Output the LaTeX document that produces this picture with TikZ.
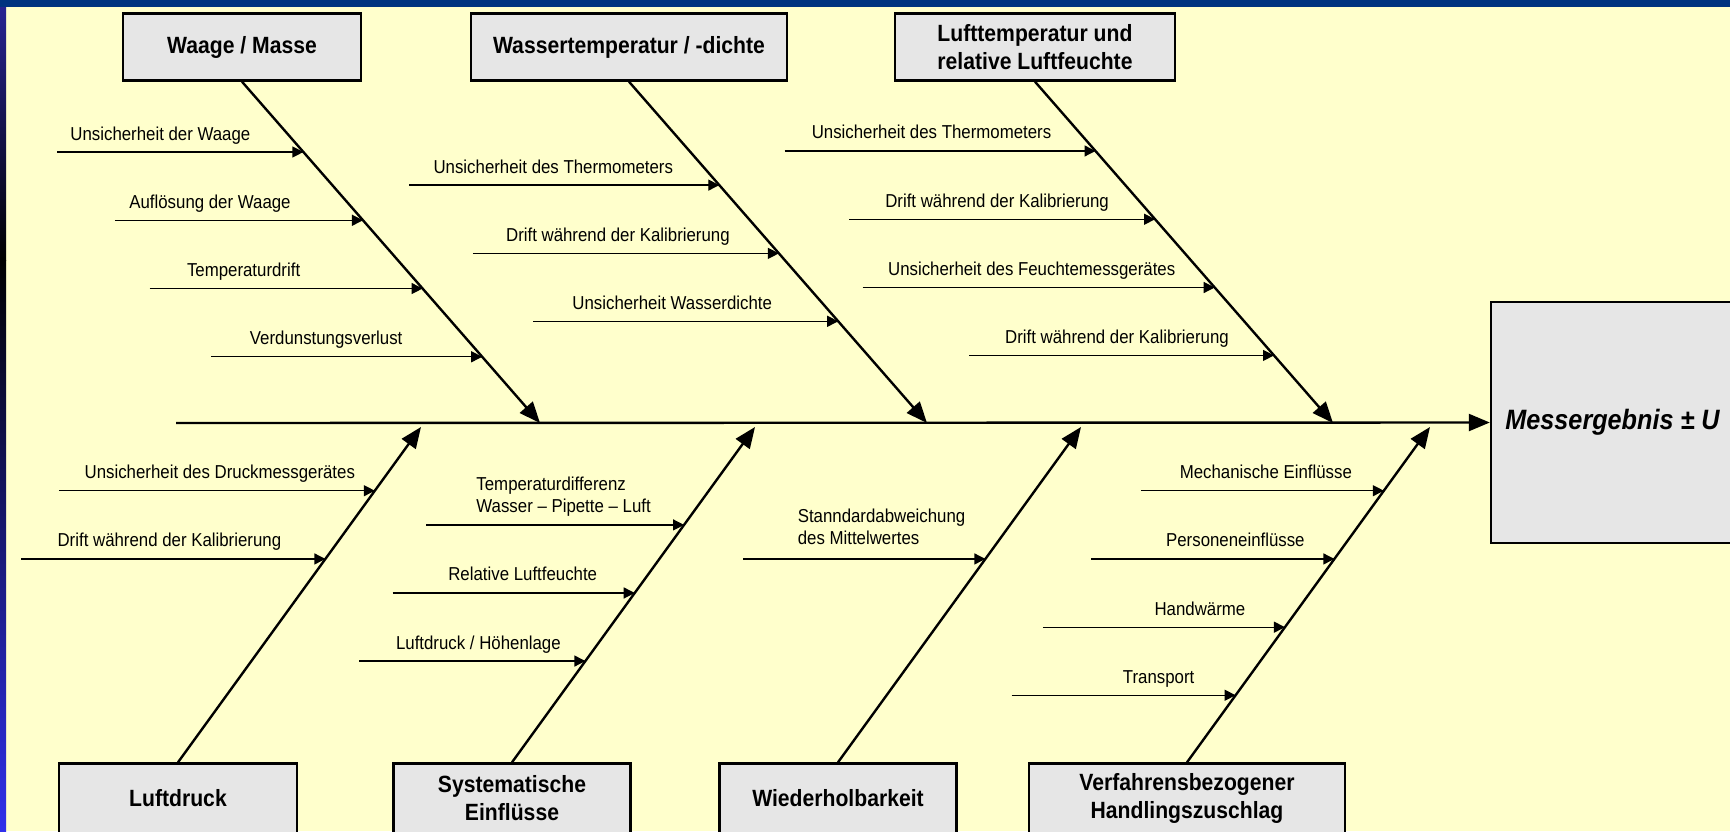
\documentclass[tikz,border=0pt]{standalone}
\usepackage{fontspec}
\setmainfont{Liberation Sans}[FakeStretch=0.9]
\usetikzlibrary{arrows.meta,calc}

\definecolor{slide}{RGB}{255,255,204}
\definecolor{boxgray}{RGB}{230,230,230}
\definecolor{barblue}{RGB}{0,51,128}
\definecolor{stripblue}{RGB}{40,36,150}
\definecolor{stripbright}{RGB}{48,48,235}

\tikzset{
    cause/.style={draw, line width=1.2pt, fill=boxgray, align=center, inner sep=0pt,
        font=\fontsize{11.75}{14}\selectfont\bfseries, minimum height=33.5pt},
    result/.style={cause, font=\fontsize{14}{16}\selectfont\bfseries\itshape,
        minimum width=121.5pt, minimum height=120.5pt},
    lbl/.style={inner sep=0pt, font=\fontsize{9.35}{11.25}\selectfont, anchor=base},
    lbltwo/.style={lbl, align=left, anchor=base west},
    spine/.style={line width=1.2pt, -{Triangle[length=10.5pt, width=8.5pt]}},
    bone/.style={spine},
    sub/.style={line width=0.65pt, -{Triangle[length=5.5pt, width=5.5pt]}}
}

\begin{document}
\begin{tikzpicture}[x=0.5pt, y=-0.5pt]
    \useasboundingbox (0,0) rectangle (1730,831);
    % slide background
    \fill[slide] (0,0) rectangle (1730,831);
    \shade[top color=stripblue, bottom color=black] (0,0) rectangle (6,260);
    \shade[top color=black, bottom color=stripbright] (0,260) rectangle (6,831);
    \fill[barblue] (0,0) rectangle (1730,7);

    % main categories
    \node[cause, minimum width=119pt] (wm) at (242,47) {Waage / Masse};
    \node[cause, minimum width=158pt] (wt) at (629,47) {Wassertemperatur / -dichte};
    \node[cause, minimum width=140pt] (lt) at (1035,47) {Lufttemperatur und\\relative Luftfeuchte};
    \node[cause, minimum width=119pt, minimum height=35pt] (ld) at (178,798.5) {Luftdruck};
    \node[cause, minimum width=118.5pt, minimum height=35pt] (se) at (512,798.5) {Systematische\\Einfl\"usse};
    \node[cause, minimum width=118.5pt, minimum height=35pt] (wh) at (838,798.5) {Wiederholbarkeit};
    \node[cause, minimum width=158pt, minimum height=35pt] (vh) at (1187,798.5) {Verfahrensbezogener\\Handlingszuschlag};
    \node[result] (res) at (1612.5,422.5) {Messergebnis ± U};

    % spine and bones
    \coordinate (tail) at (176,423);
    \coordinate (t1) at (540,423);
    \coordinate (t2) at (927,423);
    \coordinate (t3) at (1333,423);
    \coordinate (b1) at (421,427);
    \coordinate (b2) at (755,427);
    \coordinate (b3) at (1081,427);
    \coordinate (b4) at (1430,427);
    \draw[spine] (tail) -- (res.west);
    \draw[bone] (wm.south) -- (t1);
    \draw[bone] (wt.south) -- (t2);
    \draw[bone] (lt.south) -- (t3);
    \draw[bone] (ld.north) -- (b1);
    \draw[bone] (se.north) -- (b2);
    \draw[bone] (wh.north) -- (b3);
    \draw[bone] (vh.north) -- (b4);

    % Waage / Masse
    \coordinate (w1) at ($(wm.south)!.206!(t1)$);
    \draw[sub] ($(w1)+(-246,0)$) coordinate (w1s) -- (w1);
    \node[lbl] (lw1) at ($(w1)+(-143,-12)$) {Unsicherheit der Waage};
    \coordinate (w2) at ($(wm.south)!.406!(t1)$);
    \draw[sub] ($(w2)+(-248,0)$) coordinate (w2s) -- (w2);
    \node[lbl] (lw2) at ($(w2)+(-153,-12)$) {Aufl\"osung der Waage};
    \coordinate (w3) at ($(wm.south)!.606!(t1)$);
    \draw[sub] ($(w3)+(-273,0)$) coordinate (w3s) -- (w3);
    \node[lbl] (lw3) at ($(w3)+(-179,-12)$) {Temperaturdrift};
    \coordinate (w4) at ($(wm.south)!.806!(t1)$);
    \draw[sub] ($(w4)+(-271,0)$) coordinate (w4s) -- (w4);
    \node[lbl] (lw4) at ($(w4)+(-156,-12)$) {Verdunstungsverlust};

    % Wassertemperatur / -dichte
    \coordinate (a1) at ($(wt.south)!.303!(t2)$);
    \draw[sub] ($(a1)+(-310,0)$) coordinate (a1s) -- (a1);
    \node[lbl] (la1) at ($(a1)+(-166,-12)$) {Unsicherheit des Thermometers};
    \coordinate (a2) at ($(wt.south)!.503!(t2)$);
    \draw[sub] ($(a2)+(-306,0)$) coordinate (a2s) -- (a2);
    \node[lbl] (la2) at ($(a2)+(-161,-12)$) {Drift w\"ahrend der Kalibrierung};
    \coordinate (a3) at ($(wt.south)!.702!(t2)$);
    \draw[sub] ($(a3)+(-305,0)$) coordinate (a3s) -- (a3);
    \node[lbl] (la3) at ($(a3)+(-166,-12)$) {Unsicherheit Wasserdichte};

    % Lufttemperatur und relative Luftfeuchte
    \coordinate (c1) at ($(lt.south)!.203!(t3)$);
    \draw[sub] ($(c1)+(-311,0)$) coordinate (c1s) -- (c1);
    \node[lbl] (lc1) at ($(c1)+(-164,-12)$) {Unsicherheit des Thermometers};
    \coordinate (c2) at ($(lt.south)!.403!(t3)$);
    \draw[sub] ($(c2)+(-306,0)$) coordinate (c2s) -- (c2);
    \node[lbl] (lc2) at ($(c2)+(-158,-12)$) {Drift w\"ahrend der Kalibrierung};
    \coordinate (c3) at ($(lt.south)!.603!(t3)$);
    \draw[sub] ($(c3)+(-352,0)$) coordinate (c3s) -- (c3);
    \node[lbl] (lc3) at ($(c3)+(-183,-12)$) {Unsicherheit des Feuchtemessger\"ates};
    \coordinate (c4) at ($(lt.south)!.802!(t3)$);
    \draw[sub] ($(c4)+(-305,0)$) coordinate (c4s) -- (c4);
    \node[lbl] (lc4) at ($(c4)+(-157,-12)$) {Drift w\"ahrend der Kalibrierung};

    % Luftdruck
    \coordinate (d1) at ($(ld.north)!.810!(b1)$);
    \draw[sub] ($(d1)+(-316,0)$) coordinate (d1s) -- (d1);
    \node[lbl] (ld1) at ($(d1)+(-155,-12)$) {Unsicherheit des Druckmessger\"ates};
    \coordinate (d2) at ($(ld.north)!.6065!(b1)$);
    \draw[sub] ($(d2)+(-304,0)$) coordinate (d2s) -- (d2);
    \node[lbl] (ld2) at ($(d2)+(-156,-12)$) {Drift w\"ahrend der Kalibrierung};

    % Systematische Einfluesse
    \coordinate (s1) at ($(se.north)!.708!(b2)$);
    \draw[sub] ($(s1)+(-258,0)$) coordinate (s1s) -- (s1);
    \node[lbltwo] (ls1) at ($(s1)+(-208,-12)$) {Temperaturdifferenz\\Wasser – Pipette – Luft};
    \coordinate (s2) at ($(se.north)!.505!(b2)$);
    \draw[sub] ($(s2)+(-242,0)$) coordinate (s2s) -- (s2);
    \node[lbl] (ls2) at ($(s2)+(-112,-12)$) {Relative Luftfeuchte};
    \coordinate (s3) at ($(se.north)!.302!(b2)$);
    \draw[sub] ($(s3)+(-226,0)$) coordinate (s3s) -- (s3);
    \node[lbl] (ls3) at ($(s3)+(-107,-12)$) {Luftdruck / H\"ohenlage};

    % Wiederholbarkeit
    \coordinate (h1) at ($(wh.north)!.6065!(b3)$);
    \draw[sub] ($(h1)+(-242,0)$) coordinate (h1s) -- (h1);
    \node[lbltwo] (lh1) at ($(h1)+(-188,-14)$) {Stanndardabweichung\\des Mittelwertes};

    % Verfahrensbezogener Handlingszuschlag
    \coordinate (v1) at ($(vh.north)!.810!(b4)$);
    \draw[sub] ($(v1)+(-243,0)$) coordinate (v1s) -- (v1);
    \node[lbl] (lv1) at ($(v1)+(-118,-12)$) {Mechanische Einfl\"usse};
    \coordinate (v2) at ($(vh.north)!.6065!(b4)$);
    \draw[sub] ($(v2)+(-243,0)$) coordinate (v2s) -- (v2);
    \node[lbl] (lv2) at ($(v2)+(-99,-12)$) {Personeneinfl\"usse};
    \coordinate (v3) at ($(vh.north)!.403!(b4)$);
    \draw[sub] ($(v3)+(-242,0)$) coordinate (v3s) -- (v3);
    \node[lbl] (lv3) at ($(v3)+(-85,-12)$) {Handw\"arme};
    \coordinate (v4) at ($(vh.north)!.200!(b4)$);
    \draw[sub] ($(v4)+(-224,0)$) coordinate (v4s) -- (v4);
    \node[lbl] (lv4) at ($(v4)+(-77,-12)$) {Transport};
\end{tikzpicture}
\end{document}
